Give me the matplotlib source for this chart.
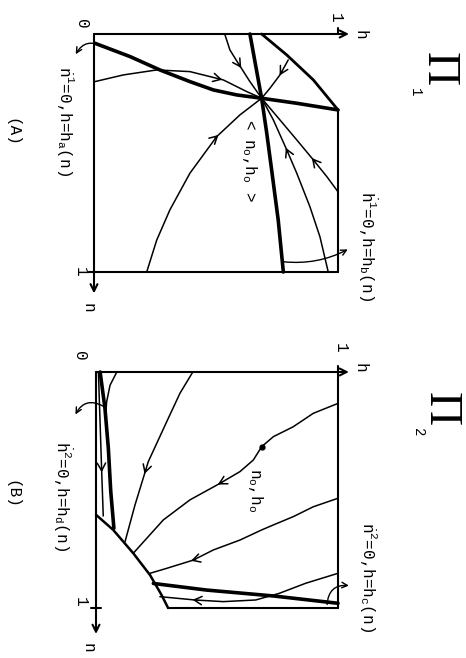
import matplotlib
matplotlib.use("Agg")
import matplotlib.pyplot as plt
import numpy as np

plt.rcParams['font.family'] = ['Liberation Mono', 'DejaVu Sans']
plt.rcParams['mathtext.fontset'] = 'custom'
plt.rcParams['mathtext.rm'] = 'Liberation Mono'
plt.rcParams['mathtext.it'] = 'Liberation Mono'
plt.rcParams['mathtext.bf'] = 'Liberation Mono'

# ---------------- Panel A  (Pi_1) : curves in (h, n) ----------------
A_ha_h = [0.004, 0.148, 0.270, 0.393, 0.489, 0.585, 0.687, 0.831, 1.0]
A_ha_n = [0.039, 0.095, 0.151, 0.200, 0.235, 0.256, 0.270, 0.291, 0.319]
A_hb_h = [0.639, 0.687, 0.708, 0.728, 0.755, 0.776]
A_hb_n = [0.0, 0.270, 0.417, 0.571, 0.782, 1.0]
A_edge_h = [0.687, 0.790, 0.899, 1.0]
A_edge_n = [0.0, 0.088, 0.193, 0.319]
A_t1_h = [0.004, 0.120, 0.257, 0.393, 0.530, 0.626, 0.687]
A_t1_n = [0.200, 0.172, 0.151, 0.158, 0.193, 0.242, 0.270]
A_t2_h = [0.537, 0.557, 0.591, 0.639, 0.687]
A_t2_n = [0.004, 0.067, 0.123, 0.200, 0.270]
A_t3_h = [0.796, 0.762, 0.721, 0.687]
A_t3_n = [0.109, 0.172, 0.228, 0.270]
A_t4_h = [0.216, 0.257, 0.311, 0.393, 0.503, 0.598, 0.687]
A_t4_n = [1.0, 0.866, 0.739, 0.585, 0.431, 0.340, 0.270]
A_t5_h = [0.960, 0.926, 0.885, 0.831, 0.790, 0.735, 0.687]
A_t5_n = [1.0, 0.852, 0.726, 0.585, 0.487, 0.361, 0.270]
A_t6_h = [1.0, 0.954, 0.899, 0.831, 0.762, 0.687]
A_t6_n = [0.663, 0.599, 0.529, 0.445, 0.361, 0.270]
A_arrow_t = [3.9, 2.15, 0.9, 4.0, 4.0, 2.0]

# ---------------- Panel B  (Pi_2) : curves in (h, n) ----------------
B_bound_h = [0.0, 0.071, 0.154, 0.223, 0.271, 0.298]
B_bound_n = [0.605, 0.669, 0.768, 0.860, 0.945, 1.0]
B_hd_h = [0.017, 0.037, 0.051, 0.061, 0.074]
B_hd_n = [0.0, 0.154, 0.323, 0.507, 0.662]
B_hc_h = [0.237, 0.457, 0.733, 1.0]
B_hc_n = [0.896, 0.924, 0.949, 0.980]
B_l_h = [0.010, 0.024, 0.030]
B_l_n = [0.0, 0.437, 0.61]
B_tl_h = [0.086, 0.058, 0.044, 0.040]
B_tl_n = [0.0, 0.056, 0.126, 0.18]
B_t1_h = [0.40, 0.347, 0.292, 0.216, 0.161, 0.120]
B_t1_n = [0.0, 0.09, 0.211, 0.38, 0.564, 0.719]
B_t2_h = [1.0, 0.898, 0.815, 0.733, 0.685, 0.650, 0.595, 0.512, 0.388, 0.278, 0.154]
B_t2_n = [0.133, 0.175, 0.232, 0.274, 0.316, 0.373, 0.422, 0.472, 0.542, 0.627, 0.768]
B_t3_h = [1.0, 0.898, 0.815, 0.733, 0.685, 0.595, 0.485, 0.402, 0.292, 0.223]
B_t3_n = [0.535, 0.571, 0.613, 0.648, 0.669, 0.712, 0.754, 0.797, 0.832, 0.853]
B_t4_h = [1.0, 0.867, 0.757, 0.660, 0.526, 0.409, 0.264]
B_t4_n = [0.853, 0.895, 0.938, 0.966, 0.973, 0.966, 0.952]
B_arrow_t = [0.95, 3.23, 7.0, 7.0, 5.0]
B_point = (0.685, 0.316)

# ---------------- labels ----------------
A_label_a = r"$\dot{n}^1$=0,h=h$_a$(n)"
A_label_b = r"$\dot{h}^1$=0,h=h$_b$(n)"
A_label_o = r"< n$_o$,h$_o$ >"
B_label_d = r"$\dot{h}^2$=0,h=h$_d$(n)"
B_label_c = r"$\dot{n}^2$=0,h=h$_c$(n)"
B_label_o = r"n$_o$,h$_o$"

W, H = 466, 658
fig = plt.figure(figsize=(W / 100, H / 100), dpi=100)
fig.patch.set_facecolor('white')

axA = fig.add_axes([94 / W, 1 - 272 / H, 244 / W, 238 / H])
axB = fig.add_axes([96 / W, 1 - 608 / H, 242 / W, 236 / H])
for ax in (axA, axB):
    ax.set_xlim(0, 1)
    ax.set_ylim(1, 0)
    ax.axis('off')

THIN, THICK, BOX = 1.1, 2.6, 1.5


def line(ax, hs, ns, lw):
    ax.plot(hs, ns, color='black', lw=lw, clip_on=False, solid_capstyle='round',
            solid_joinstyle='round')


def arrow_on(ax, hs, ns, t):
    i = int(t)
    f = t - i
    h0 = hs[i] + f * (hs[i + 1] - hs[i])
    n0 = ns[i] + f * (ns[i + 1] - ns[i])
    dh, dn = hs[i + 1] - hs[i], ns[i + 1] - ns[i]
    L = np.hypot(dh, dn)
    dh, dn = dh / L, dn / L
    ax.annotate('', xy=(h0 + 0.01 * dh, n0 + 0.01 * dn),
                xytext=(h0 - 0.01 * dh, n0 - 0.01 * dn),
                arrowprops=dict(arrowstyle='->,head_length=0.55,head_width=0.3',
                                lw=THIN, color='black', shrinkA=0, shrinkB=0),
                annotation_clip=False)


def axis_arrow(ax, start, end):
    ax.annotate('', xy=end, xytext=start,
                arrowprops=dict(arrowstyle='->,head_length=0.5,head_width=0.25',
                                lw=BOX, color='black', shrinkA=0, shrinkB=0),
                annotation_clip=False)


def pointer(ax, start, end, rad):
    ax.annotate('', xy=end, xytext=start,
                arrowprops=dict(arrowstyle='->,head_length=0.4,head_width=0.2',
                                lw=1.0, color='black', shrinkA=0, shrinkB=0,
                                connectionstyle=f'arc3,rad={rad}'),
                annotation_clip=False)


def ftext(x, y, s, size=11.5, **kw):
    fig.text(x / W, 1 - y / H, s, rotation=-90, ha='center', va='center',
             fontsize=size, color='black', **kw)


# ---------- Panel A ----------
axis_arrow(axA, (0, 0), (1.045, 0))
axis_arrow(axA, (0, 0), (0, 1.09))
line(axA, [0, 1], [1, 1], BOX)
line(axA, [1, 1], [A_edge_n[-1], 1], BOX)
line(axA, [-0.02, 0], [1, 1], BOX)
line(axA, [1, 1], [-0.025, 0], BOX)
line(axA, A_edge_h, A_edge_n, 2.0)
line(axA, A_ha_h, A_ha_n, THICK)
line(axA, A_hb_h, A_hb_n, THICK)
A_traj = [(A_t1_h, A_t1_n), (A_t2_h, A_t2_n), (A_t3_h, A_t3_n),
          (A_t4_h, A_t4_n), (A_t5_h, A_t5_n), (A_t6_h, A_t6_n)]
for (hs, ns), t in zip(A_traj, A_arrow_t):
    line(axA, hs, ns, THIN)
    arrow_on(axA, hs, ns, t)
pointer(axA, (0.037, 0.055), (-0.075, 0.085), 0.5)
pointer(axA, (0.776, 0.957), (1.04, 0.905), 0.15)

ftext(81, 24, "0")
ftext(80, 272, "1")
ftext(88, 308, "n")
ftext(335, 18, "1")
ftext(360, 35, "h")
ftext(65, 121, A_label_a)
ftext(367, 246, A_label_b)
ftext(249, 160, A_label_o)
ftext(12, 132, "(A)")
ftext(438, 69, "Π", size=34, family=['Liberation Serif', 'DejaVu Serif'])
ftext(415, 92, "1", size=10)

# ---------- Panel B ----------
axis_arrow(axB, (0, 0), (1.045, 0))
axis_arrow(axB, (0, 0), (0, 1.11))
line(axB, [1, 1], [0, 1], BOX)
line(axB, [B_bound_h[-1], 1], [1, 1], BOX)
line(axB, [-0.02, 0.02], [1, 1], BOX)
line(axB, [1, 1], [-0.025, 0], BOX)
line(axB, B_bound_h, B_bound_n, 1.8)
line(axB, B_hd_h, B_hd_n, THICK)
line(axB, B_hc_h, B_hc_n, THICK)
line(axB, B_tl_h, B_tl_n, THIN)
B_traj = [(B_l_h, B_l_n), (B_t1_h, B_t1_n), (B_t2_h, B_t2_n),
          (B_t3_h, B_t3_n), (B_t4_h, B_t4_n)]
for (hs, ns), t in zip(B_traj, B_arrow_t):
    line(axB, hs, ns, THIN)
    arrow_on(axB, hs, ns, t)
axB.plot([B_point[0]], [B_point[1]], 'o', color='black', ms=3.5, clip_on=False)
pointer(axB, (0.03, 0.145), (-0.085, 0.18), 0.5)
pointer(axB, (0.955, 0.985), (1.045, 0.905), -0.5)

ftext(80, 356, "0")
ftext(80, 602, "1")
ftext(88, 648, "n")
ftext(340, 348, "1")
ftext(360, 368, "h")
ftext(62, 496, B_label_d)
ftext(369, 577, B_label_c)
ftext(256, 490, B_label_o)
ftext(12, 494, "(B)")
ftext(440, 409, "Π", size=34, family=['Liberation Serif', 'DejaVu Serif'])
ftext(418, 432, "2", size=10)

fig.savefig("out.png", dpi=100, facecolor='white')
